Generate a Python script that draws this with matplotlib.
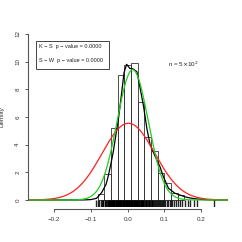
import numpy as np
import matplotlib
matplotlib.use("Agg")
from matplotlib import pyplot as plt
from matplotlib.patches import Rectangle

# histogram (density scale)
bin_edges = [-0.0820, -0.0638, -0.0456, -0.0274, -0.0093, 0.0089, 0.0271,
             0.0453, 0.0634, 0.0816, 0.0998, 0.1180, 0.1361, 0.1543]
bin_heights = [0.45, 1.86, 5.2, 9.0, 9.75, 9.87, 7.1, 4.57, 3.54, 1.97,
               1.25, 0.53, 0.36]

# kernel density
kde_x = [-0.272, -0.12, -0.10, -0.085, -0.071, -0.059, -0.053, -0.046, -0.039,
         -0.032, -0.026, -0.018, -0.010, -0.003, 0.006, 0.015, 0.025, 0.034,
         0.043, 0.052, 0.061, 0.074, 0.088, 0.097, 0.111, 0.129, 0.142, 0.16,
         0.18, 0.20, 0.22, 0.272]
kde_y = [0.0, 0.005, 0.03, 0.12, 0.53, 1.13, 1.73, 2.58, 3.54, 4.74, 5.7,
         7.4, 9.2, 9.8, 9.5, 9.46, 9.26, 8.06, 6.8, 5.2, 4.0, 3.2, 2.4, 1.7,
         0.85, 0.48, 0.36, 0.2, 0.1, 0.04, 0.01, 0.0]

# fitted normal curves
red_mean, red_sd = 0.002, 0.072
green_mean, green_sd = 0.0136, 0.0424

rug_x = [-0.086, -0.081, -0.078, -0.074, -0.071, -0.068, -0.066, -0.063,
         -0.061, -0.059, -0.057, -0.055, -0.054, -0.052, -0.051, -0.049,
         -0.048, -0.046, -0.045, -0.044, -0.042, -0.041, -0.040, -0.038,
         -0.037, -0.036, -0.034, -0.033, -0.032, -0.031, -0.029, -0.028,
         -0.027, -0.026, -0.024, -0.023, -0.022, -0.021, -0.019, -0.018,
         -0.017, -0.016, -0.014, -0.013, -0.012, -0.011, -0.009, -0.008,
         -0.007, -0.006, -0.004, -0.003, -0.002, -0.001, 0.001, 0.002, 0.003,
         0.004, 0.006, 0.007, 0.008, 0.009, 0.011, 0.012, 0.013, 0.014, 0.016,
         0.017, 0.018, 0.019, 0.021, 0.022, 0.023, 0.025, 0.026, 0.027, 0.029,
         0.030, 0.032, 0.033, 0.035, 0.036, 0.038, 0.040, 0.041, 0.043, 0.045,
         0.047, 0.049, 0.051, 0.053, 0.055, 0.057, 0.059, 0.061, 0.063, 0.065,
         0.067, 0.070, 0.072, 0.074, 0.077, 0.079, 0.082, 0.084, 0.087, 0.090,
         0.093, 0.096, 0.099, 0.102, 0.106, 0.110, 0.114, 0.118, 0.122, 0.126,
         0.131, 0.137, 0.143, 0.149, 0.156, 0.163, 0.171, 0.180, 0.188, 0.235]

x_ticks = [-0.2, -0.1, 0.0, 0.1, 0.2]
x_labels = ["\u22120.2", "\u22120.1", "0.0", "0.1", "0.2"]
y_ticks = [0, 2, 4, 6, 8, 10, 12]

plt.rcParams['font.family'] = ['Liberation Sans', 'DejaVu Sans']
fig = plt.figure(figsize=(2.42, 2.42), dpi=100)
ax = fig.add_axes([0.1153, 0.145, 0.8248, 0.7438])
ax.set_xlim(-0.272, 0.272)
ax.set_ylim(-0.5, 12.5)

widths = np.diff(bin_edges)
ax.bar(bin_edges[:-1], bin_heights, width=widths, align='edge',
       fill=False, edgecolor='#333333', linewidth=0.6)

xs = np.linspace(-0.272, 0.272, 400)
red_y = np.exp(-0.5 * ((xs - red_mean) / red_sd) ** 2) / (red_sd * np.sqrt(2 * np.pi))
green_y = np.exp(-0.5 * ((xs - green_mean) / green_sd) ** 2) / (green_sd * np.sqrt(2 * np.pi))

ax.plot(kde_x, kde_y, color='black', lw=0.9)
ax.plot(xs, red_y, color='#ff2020', lw=0.9)
ax.plot(xs, green_y, color='#22cc22', lw=0.9)

ax.vlines(rug_x, -0.5, 0.0, color='black', lw=1.0, alpha=0.85)

for s in ['top', 'right']:
    ax.spines[s].set_visible(False)
ax.spines['left'].set_bounds(0, 12)
ax.spines['bottom'].set_bounds(-0.2, 0.2)
ax.spines['bottom'].set_position(('outward', 1.5))
for s in ['left', 'bottom']:
    ax.spines[s].set_color('#555555')
    ax.spines[s].set_linewidth(0.8)

ax.set_xticks(x_ticks)
ax.set_xticklabels(x_labels)
ax.set_yticks(y_ticks)
ax.set_yticklabels([str(v) for v in y_ticks], rotation=90, va='center')
ax.tick_params(length=2.5, width=0.7, color='#555555', labelsize=4.5,
               labelcolor='#333333', pad=3)
ax.set_ylabel('Density', fontsize=4.5, color='#333333', labelpad=8)

# test-result box
ax.add_patch(Rectangle((-0.2507, 9.44), 0.2006, 2.06, fill=False,
                       ec='#444444', lw=0.7, zorder=5))
ax.text(-0.242, 11.05, "K \u2212 S  p \u2212 value = 0.0000", fontsize=4,
        va='center', color='#222222')
ax.text(-0.242, 10.04, "S \u2212 W  p \u2212 value = 0.0000", fontsize=4,
        va='center', color='#222222')
ax.text(0.109, 9.8, r"n = 5$\times$10$^2$", fontsize=4.5, va='center',
        color='#222222')

fig.savefig('out.png', dpi=100)
